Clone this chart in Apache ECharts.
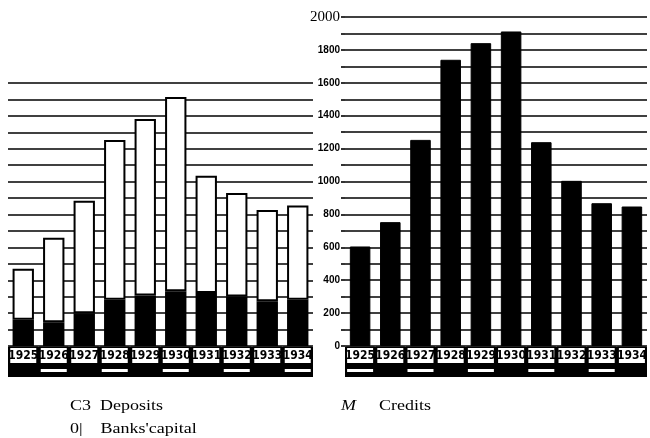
<!DOCTYPE html>
<html>
<head>
<meta charset="utf-8">
<script src="https://cdn.jsdelivr.net/npm/echarts@6/dist/echarts.min.js"></script>
<style>
html,body{margin:0;padding:0;background:#fff;}
#chart{width:650px;height:438px;}
</style>
</head>
<body>
<div id="chart"></div>
<script>
var years = ['1925','1926','1927','1928','1929','1930','1931','1932','1933','1934'];
var banksCapital = [159, 145, 199, 281, 307, 333, 323, 301, 272, 281];
var deposits = [311, 513, 685, 972, 1074, 1182, 713, 630, 556, 573];
var credits = [605, 753, 1253, 1740, 1841, 1912, 1239, 1004, 868, 848];
var yTicks = [0, 200, 400, 600, 800, 1000, 1200, 1400, 1600, 1800, 2000];

var chart = echarts.init(document.getElementById('chart'), null, {renderer: 'canvas'});

var yearLabel = {
  interval: 0,
  margin: 2,
  formatter: function (v) { return '{b|' + v + '}'; },
  rich: {
    b: {
      fontFamily: 'DejaVu Sans Condensed', fontWeight: 'bold', fontSize: 12,
      color: '#000', backgroundColor: '#fff', borderColor: '#000', borderWidth: 1.5,
      width: 24, align: 'center', height: 15, lineHeight: 15, padding: [0, 1]
    }
  }
};
function stripAxis(grid, oddOn) {
  return {
    type: 'category', gridIndex: grid, data: years, position: 'bottom', offset: 16,
    z: 1,
    axisLine: {show: true, lineStyle: {color: '#000', width: 30, cap: 'butt'}},
    axisTick: {show: false},
    splitLine: {show: false},
    axisLabel: {
      interval: 0, margin: 7,
      formatter: function (v, i) { return (i % 2 === oddOn) ? '{d| }' : ''; },
      rich: {d: {backgroundColor: '#fff', width: 26, height: 3, lineHeight: 3, fontSize: 1}}
    }
  };
}

var option = {
  backgroundColor: '#fff',
  animation: false,
  grid: [
    {left: 8, top: 83, width: 305, height: 263},
    {left: 345, top: 17, width: 302, height: 329}
  ],
  xAxis: [
    {type: 'category', gridIndex: 0, data: years, z: 3,
     axisLine: {show: false}, axisTick: {show: false}, axisLabel: yearLabel},
    {type: 'category', gridIndex: 1, data: years, z: 3,
     axisLine: {show: false}, axisTick: {show: false}, axisLabel: yearLabel},
    stripAxis(0, 1),
    stripAxis(1, 0)
  ],
  yAxis: [
    {type: 'value', gridIndex: 0, min: 0, max: 1600, interval: 100,
     axisLine: {show: false}, axisTick: {show: false}, axisLabel: {show: false},
     splitLine: {show: true, lineStyle: {color: '#000', width: 1.6}}},
    {type: 'value', gridIndex: 1, min: 0, max: 2000, interval: 100, position: 'left',
     axisLine: {show: false},
     axisTick: {show: true, length: 4, lineStyle: {color: '#000', width: 1.6}},
     splitLine: {show: true, lineStyle: {color: '#000', width: 1.6}},
     axisLabel: {
       margin: 5,
       formatter: function (v) {
         if (yTicks.indexOf(v) < 0) return '';
         if (v === 2000) return '{a|' + v + '}';
         return '{b|' + v + '}';
       },
       rich: {
         a: {fontFamily: 'Liberation Serif', fontSize: 15, color: '#000'},
         b: {fontFamily: 'Liberation Sans', fontWeight: 'bold', fontSize: 10, color: '#000'}
       }
     }}
  ],
  series: [
    {name: "Banks'capital", type: 'bar', xAxisIndex: 0, yAxisIndex: 0, stack: 'left',
     data: banksCapital, barWidth: '70%', z: 2,
     itemStyle: {color: '#000', borderColor: '#000', borderWidth: 1.5}},
    {name: 'Deposits', type: 'bar', xAxisIndex: 0, yAxisIndex: 0, stack: 'left',
     data: deposits, barWidth: '70%', z: 2,
     itemStyle: {color: '#fff', borderColor: '#000', borderWidth: 2}},
    {name: 'Credits', type: 'bar', xAxisIndex: 1, yAxisIndex: 1,
     data: credits, barWidth: '68%', z: 2,
     itemStyle: {color: '#000', borderColor: '#000', borderWidth: 1}}
  ],
  graphic: [
    {type: 'text', left: 70, top: 399, scaleX: 1.2,
     style: {text: 'C3  Deposits', font: '15px "Liberation Serif"', fill: '#000'}},
    {type: 'text', left: 70, top: 422, scaleX: 1.2,
     style: {text: '0|    Banks\'capital', font: '15px "Liberation Serif"', fill: '#000'}},
    {type: 'text', left: 341, top: 399, scaleX: 1.2,
     style: {text: 'M', font: 'italic 15px "Liberation Serif"', fill: '#000'}},
    {type: 'text', left: 379, top: 399, scaleX: 1.2,
     style: {text: 'Credits', font: '15px "Liberation Serif"', fill: '#000'}}
  ]
};
chart.setOption(option);
</script>
</body>
</html>
